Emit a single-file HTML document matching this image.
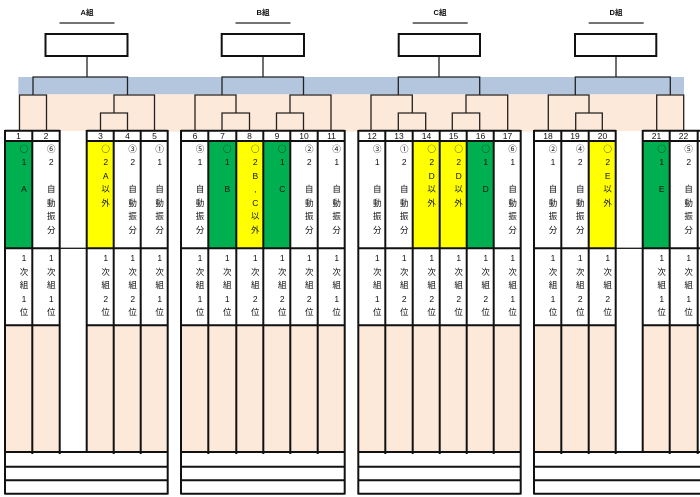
<!DOCTYPE html>
<html><head><meta charset="utf-8"><style>
html,body{margin:0;padding:0;background:#fff}
#p{position:relative;width:700px;height:497px;overflow:hidden;background:#fff;filter:blur(.35px);font-family:"Liberation Sans","Noto Sans CJK JP",sans-serif;font-size:8.5px;color:#111}
svg{position:absolute;left:0;top:0}
.c,.n,.t{position:absolute;text-align:center}
.c{width:14px;line-height:13.55px;margin-left:12px;top:142.7px}
.c.s{top:252px}
.n{width:27px;top:131.5px;line-height:9px}
.t{width:40px;top:8px;line-height:10px;font-size:7.5px;font-weight:bold}
b{font-weight:normal;font-family:"Noto Sans CJK JP",sans-serif}
</style></head><body><div id="p">
<svg width="700" height="497" viewBox="0 0 700 497">
<rect x="18.3" y="77" width="665.7" height="17.3" fill="#b3c6dd"/>
<rect x="18.3" y="94.3" width="665.7" height="37.4" fill="#fce9da"/>
<g fill="#fff">
<rect x="5" y="131" width="163" height="363"/><rect x="181" y="131" width="164" height="363"/><rect x="358" y="131" width="163" height="363"/><rect x="534" y="131" width="164" height="363"/>
</g>
<g fill="#fce9da">
<rect x="5" y="325" width="54.7" height="127"/><rect x="86.7" y="325" width="81" height="127"/><rect x="181" y="325" width="163.7" height="127"/><rect x="358.3" y="325" width="162.4" height="127"/><rect x="534" y="325" width="81.7" height="127"/><rect x="642.7" y="325" width="55" height="127"/>
</g>
<g fill="#00b050">
<rect x="5" y="141" width="27.3" height="107.3"/><rect x="208.3" y="141" width="28" height="107.3"/><rect x="263.3" y="141" width="27" height="107.3"/><rect x="466.7" y="141" width="27" height="107.3"/><rect x="642.7" y="141" width="27" height="107.3"/>
</g>
<g fill="#ffff00">
<rect x="86.7" y="141" width="27" height="107.3"/><rect x="236.3" y="141" width="27" height="107.3"/><rect x="412.7" y="141" width="54" height="107.3"/><rect x="588.7" y="141" width="27" height="107.3"/>
</g>
<g stroke="#222" stroke-width="1.3" fill="none">
<path d="M59.5 23H114.5M235.5 23H290.5M412.7 23H467.7M588.7 23H643.7"/>
<path d="M87 56V77M33 95V77H127.5V95M19.5 131V95H46.5V131M114 113V95H154.5V131M100.5 131V113H127.5V131"/>
<path d="M263 56V77M222 95V77H303.5V95M195 131V95H236V113M222 131V113H249.5V131M290 113V95H331V131M276.5 131V113H303.5V131"/>
<path d="M439 56V77M398.3 95V77H479.7V95M371 131V95H412.3V113M398.3 131V113H425.7V131M466 113V95H507.7V131M452.3 131V113H479.7V131"/>
<path d="M616 56V77M575.3 95V77H670.3V95M548.3 131V95H589V113M575.7 131V113H602.3V131M656.7 131V95H683.7V131"/>
<path d="M59.7 248.3H86.7M615.7 248.3H642.7"/>
</g>
<g stroke="#111" stroke-width="2" fill="none">
<rect x="45.5" y="34" width="82" height="22"/><rect x="221.7" y="34" width="82.3" height="22"/><rect x="398.7" y="34" width="81.3" height="22"/><rect x="575" y="34" width="81.3" height="22"/>
<path d="M5 130.7H59.7M86.7 130.7H167.7M181 130.7H344.7M358.3 130.7H520.7M534 130.7H615.7M642.7 130.7H700"/>
<path d="M5 141H59.7M86.7 141H167.7M181 141H344.7M358.3 141H520.7M534 141H615.7M642.7 141H700"/>
<path d="M5 248.3H59.7M86.7 248.3H167.7M181 248.3H344.7M358.3 248.3H520.7M534 248.3H615.7M642.7 248.3H700"/>
<path d="M5 325.3H59.7M86.7 325.3H167.7M181 325.3H344.7M358.3 325.3H520.7M534 325.3H615.7M642.7 325.3H700"/>
<path d="M5 452H167.7M181 452H344.7M358.3 452H520.7M534 452H700"/>
<path d="M5 466.7H167.7M181 466.7H344.7M358.3 466.7H520.7M534 466.7H700"/>
<path d="M5 480.3H167.7M181 480.3H344.7M358.3 480.3H520.7M534 480.3H700"/>
<path d="M5 493.7H167.7M181 493.7H344.7M358.3 493.7H520.7M534 493.7H700"/>
<path d="M5 130V494.5M167.7 130V494.5M181 130V494.5M344.7 130V494.5M358.3 130V494.5M520.7 130V494.5M534 130V494.5"/>
<path d="M32.3 130V454M59.7 130V454M86.7 130V452M113.7 130V454M140.7 130V454"/>
<path d="M208.3 130V454M236.3 130V454M263.3 130V454M290.3 130V454M317.7 130V454"/>
<path d="M385.3 130V454M412.7 130V454M439.7 130V454M466.7 130V454M493.7 130V454"/>
<path d="M561.3 130V454M588.7 130V454M615.7 130V454M642.7 130V452M669.7 130V454M697.7 130V454"/>
</g>
</svg>
<div class="t" style="left:67px">A組</div><div class="t" style="left:243px">B組</div><div class="t" style="left:420px">C組</div><div class="t" style="left:596px">D組</div>

<div class="n" style="left:5px">1</div><div class="n" style="left:32.5px">2</div><div class="n" style="left:87px">3</div><div class="n" style="left:114px">4</div><div class="n" style="left:141px">5</div>
<div class="n" style="left:181.5px">6</div><div class="n" style="left:209px">7</div><div class="n" style="left:236px">8</div><div class="n" style="left:263.5px">9</div><div class="n" style="left:290.5px">10</div><div class="n" style="left:318px">11</div>
<div class="n" style="left:358.5px">12</div><div class="n" style="left:385.5px">13</div><div class="n" style="left:413px">14</div><div class="n" style="left:440px">15</div><div class="n" style="left:467px">16</div><div class="n" style="left:494px">17</div>
<div class="n" style="left:534.5px">18</div><div class="n" style="left:561.5px">19</div><div class="n" style="left:589px">20</div><div class="n" style="left:643px">21</div><div class="n" style="left:670px">22</div>

<div class="c" style="left:5px"><b>○</b><br>1<br><br>A</div>
<div class="c" style="left:32.3px"><b>⑥</b><br>2<br><br>自<br>動<br>振<br>分</div>
<div class="c" style="left:86.7px"><b>○</b><br>2<br>A<br>以<br>外</div>
<div class="c" style="left:113.7px"><b>③</b><br>2<br><br>自<br>動<br>振<br>分</div>
<div class="c" style="left:140.7px"><b>①</b><br>1<br><br>自<br>動<br>振<br>分</div>
<div class="c" style="left:181px"><b>⑤</b><br>1<br><br>自<br>動<br>振<br>分</div>
<div class="c" style="left:208.3px"><b>○</b><br>1<br><br>B</div>
<div class="c" style="left:236.3px"><b>○</b><br>2<br>B<br>,<br>C<br>以<br>外</div>
<div class="c" style="left:263.3px"><b>○</b><br>1<br><br>C</div>
<div class="c" style="left:290.3px"><b>②</b><br>2<br><br>自<br>動<br>振<br>分</div>
<div class="c" style="left:317.7px"><b>④</b><br>1<br><br>自<br>動<br>振<br>分</div>
<div class="c" style="left:358.3px"><b>③</b><br>1<br><br>自<br>動<br>振<br>分</div>
<div class="c" style="left:385.3px"><b>①</b><br>2<br><br>自<br>動<br>振<br>分</div>
<div class="c" style="left:412.7px"><b>○</b><br>2<br>D<br>以<br>外</div>
<div class="c" style="left:439.7px"><b>○</b><br>2<br>D<br>以<br>外</div>
<div class="c" style="left:466.7px"><b>○</b><br>1<br><br>D</div>
<div class="c" style="left:493.7px"><b>⑥</b><br>1<br><br>自<br>動<br>振<br>分</div>
<div class="c" style="left:534px"><b>②</b><br>1<br><br>自<br>動<br>振<br>分</div>
<div class="c" style="left:561.3px"><b>④</b><br>2<br><br>自<br>動<br>振<br>分</div>
<div class="c" style="left:588.7px"><b>○</b><br>2<br>E<br>以<br>外</div>
<div class="c" style="left:642.7px"><b>○</b><br>1<br><br>E</div>
<div class="c" style="left:669.7px"><b>⑤</b><br>2<br><br>自<br>動<br>振<br>分</div>

<div class="c s" style="left:5px">1<br>次<br>組<br>1<br>位</div>
<div class="c s" style="left:32.3px">1<br>次<br>組<br>1<br>位</div>
<div class="c s" style="left:86.7px">1<br>次<br>組<br>2<br>位</div>
<div class="c s" style="left:113.7px">1<br>次<br>組<br>2<br>位</div>
<div class="c s" style="left:140.7px">1<br>次<br>組<br>1<br>位</div>
<div class="c s" style="left:181px">1<br>次<br>組<br>1<br>位</div>
<div class="c s" style="left:208.3px">1<br>次<br>組<br>1<br>位</div>
<div class="c s" style="left:236.3px">1<br>次<br>組<br>2<br>位</div>
<div class="c s" style="left:263.3px">1<br>次<br>組<br>2<br>位</div>
<div class="c s" style="left:290.3px">1<br>次<br>組<br>2<br>位</div>
<div class="c s" style="left:317.7px">1<br>次<br>組<br>1<br>位</div>
<div class="c s" style="left:358.3px">1<br>次<br>組<br>1<br>位</div>
<div class="c s" style="left:385.3px">1<br>次<br>組<br>2<br>位</div>
<div class="c s" style="left:412.7px">1<br>次<br>組<br>2<br>位</div>
<div class="c s" style="left:439.7px">1<br>次<br>組<br>2<br>位</div>
<div class="c s" style="left:466.7px">1<br>次<br>組<br>2<br>位</div>
<div class="c s" style="left:493.7px">1<br>次<br>組<br>1<br>位</div>
<div class="c s" style="left:534px">1<br>次<br>組<br>1<br>位</div>
<div class="c s" style="left:561.3px">1<br>次<br>組<br>2<br>位</div>
<div class="c s" style="left:588.7px">1<br>次<br>組<br>2<br>位</div>
<div class="c s" style="left:642.7px">1<br>次<br>組<br>1<br>位</div>
<div class="c s" style="left:669.7px">1<br>次<br>組<br>1<br>位</div>
</div></body></html>
